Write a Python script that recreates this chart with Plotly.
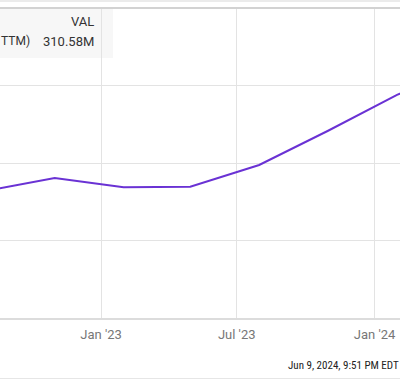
import plotly.graph_objects as go

# Data (quarterly TTM values, millions)
dates = ["2022-07-31", "2022-10-31", "2023-01-31", "2023-04-30",
         "2023-07-31", "2023-10-31", "2024-01-31", "2024-04-30"]
values_m = [232.0, 240.3, 234.4, 234.7, 248.7, 270.8, 294.0, 310.58]
tick_dates = ["2023-01-01", "2023-07-01", "2024-01-01"]
tick_labels = ["Jan '23", "Jul '23", "Jan '24"]
y_grid = [150e6, 200e6, 250e6, 300e6, 350e6]

W, H = 400, 380
TOP, BOT = 8, 318
PH = BOT - TOP

def py(p):
    return (BOT - p) / PH

def px(p):
    return p / W

NARROW = "Roboto Condensed, Liberation Sans Narrow, Arial Narrow, Roboto"

fig = go.Figure()
fig.add_trace(go.Scatter(
    x=dates, y=[v * 1e6 for v in values_m], mode="lines",
    line=dict(color="#6a32d4", width=2), hoverinfo="skip", showlegend=False,
))

fig.update_layout(
    width=W, height=H,
    margin=dict(l=0, r=0, t=TOP, b=H - BOT),
    paper_bgcolor="white", plot_bgcolor="white",
    font=dict(family="Roboto", color="#333"),
    xaxis=dict(
        type="date", range=["2022-08-19", "2024-02-04"],
        tickvals=tick_dates, ticktext=tick_labels,
        showgrid=True, gridcolor="#e3e3e3", gridwidth=1,
        showline=True, linecolor="#dcdcdc", linewidth=2,
        ticks="", ticklabelstandoff=3,
        tickfont=dict(family="Roboto", size=13, color="#777"),
        zeroline=False, fixedrange=True,
    ),
    yaxis=dict(
        range=[150e6, 350e6], tickvals=y_grid,
        showgrid=True, gridcolor="#e3e3e3", gridwidth=1,
        showticklabels=False, zeroline=False, ticks="", fixedrange=True,
    ),
    shapes=[
        dict(type="rect", xref="paper", yref="paper", x0=0, x1=px(113),
             y0=py(58), y1=py(TOP), fillcolor="#f7f7f7", line=dict(width=0),
             layer="below"),
        dict(type="rect", xref="paper", yref="paper", x0=0, x1=1,
             y0=py(2), y1=py(0), fillcolor="#ebebeb", line=dict(width=0)),
        dict(type="line", xref="paper", yref="paper", x0=0, x1=1,
             y0=py(TOP), y1=py(TOP), line=dict(color="#d2d2d2", width=2)),
        dict(type="line", xref="paper", yref="paper", x0=0, x1=1,
             y0=py(378.5), y1=py(378.5), line=dict(color="#e6e6e6", width=1)),
    ],
    annotations=[
        dict(text="TTM)", xref="paper", yref="paper",
             x=px(-1.5), y=py(41), xanchor="left", yanchor="middle",
             showarrow=False, font=dict(family="Roboto", size=12, color="#333")),
        dict(text="VAL", xref="paper", yref="paper",
             x=px(96), y=py(21), xanchor="right", yanchor="middle",
             showarrow=False, font=dict(family="Roboto", size=13, color="#333")),
        dict(text="310.58M", xref="paper", yref="paper",
             x=px(96), y=py(41), xanchor="right", yanchor="middle",
             showarrow=False, font=dict(family="Roboto", size=13, color="#333")),
        dict(text="Jun 9, 2024, 9:51 PM EDT", xref="paper", yref="paper",
             x=px(401), y=py(365), xanchor="right", yanchor="middle",
             showarrow=False, font=dict(family=NARROW, size=11, color="#222")),
    ],
)

fig.write_html(
    "out.html",
    config={"displayModeBar": False},
    post_script="document.body.style.margin='0';document.body.style.overflow='hidden';",
)
